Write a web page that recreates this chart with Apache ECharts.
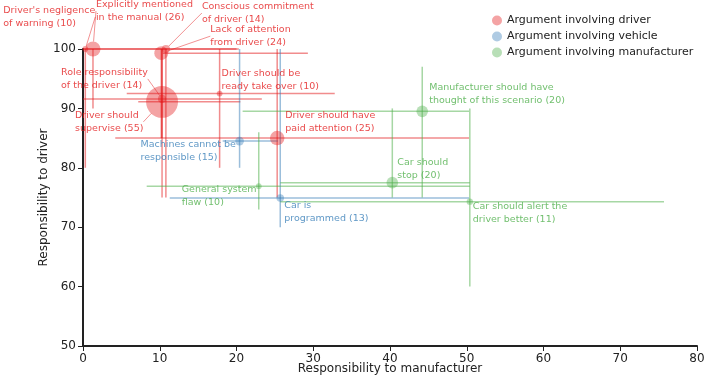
<!DOCTYPE html>
<html>
<head>
<meta charset="utf-8">
<script src="https://cdn.jsdelivr.net/npm/echarts@6/dist/echarts.min.js"></script>
<style>
  html, body { margin: 0; padding: 0; background: #fff; }
  #chart { width: 708px; height: 379px; }
</style>
</head>
<body>
<div id="chart"></div>
<script>
// arguments: name, group (0 driver, 1 vehicle, 2 manufacturer), count
var names = [
  "Driver's negligence\nof warning",
  'Explicitly mentioned\nin the manual',
  'Conscious commitment\nof driver',
  'Lack of attention\nfrom driver',
  'Role responsibility\nof the driver',
  'Driver should\nsupervise',
  'Driver should be\nready take over',
  'Driver should have\npaid attention',
  'Machines cannot be\nresponsible',
  'Car is\nprogrammed',
  'Manufacturer should have\nthought of this scenario',
  'Car should\nstop',
  'General system\nflaw',
  'Car should alert the\ndriver better'
];
var groups = [0, 0, 0, 0, 0, 0, 0, 0, 1, 1, 2, 2, 2, 2];
var counts = [10, 26, 14, 24, 14, 55, 10, 25, 15, 13, 20, 20, 10, 11];

// responsibility to manufacturer / driver, with ranges
var xVals  = [0.3, 1.3, 10.8, 10.2, 10.3, 10.3, 17.8, 25.3, 20.4, 25.7, 44.2, 40.3, 22.9, 50.4];
var yVals  = [100, 100, 100, 99.3, 91.6, 91.1, 92.5, 85.0, 84.5, 74.9, 89.5, 77.5, 76.9, 74.3];
var xLow   = [0, 0, 10, 10.4, 0, 7.2, 5.7, 4.2, 18.2, 11.3, 20.8, 25.7, 8.3, 25.7];
var xHigh  = [10, 20.3, 20, 29.3, 23.3, 20.5, 32.8, 50.3, 25.4, 50.3, 50.3, 50.4, 50.4, 75.7];
var yLow   = [80, 90, 75, 85, 85, 75, 80, 75, 80, 70, 75, 75, 73, 60];
var yHigh  = [100, 100, 100, 100, 100, 100, 100, 100, 100, 100, 97, 90, 86, 90];

// label placement relative to the point (px) and whether a leader line is drawn
var labelShift = [
  [-82, -32], [3, -38], [36, -36], [49, -17], [-101, -20], [-87, 20], [2, -14],
  [8, -16], [-99, 10], [4, 14], [7, -17], [5, -14], [-77, 10], [3, 11]
];
var leader = [true, true, true, true, true, true, false, false, false, false, false, false, false, false];

var groupNames = ['Argument involving driver', 'Argument involving vehicle', 'Argument involving manufacturer'];
var groupColors = ['#e41a1c', '#377eb8', '#4daf4a'];
var groupFill = ['rgba(228,26,28,0.5)', 'rgba(55,126,184,0.5)', 'rgba(77,175,74,0.5)'];

var chart = echarts.init(document.getElementById('chart'));
var series = [];

groupNames.forEach(function(gName, g) {
  var idx = [];
  for (var i = 0; i < names.length; i++) {
    if (groups[i] === g) idx.push(i);
  }

  // error bars
  series.push({
    type: 'custom',
    silent: true,
    z: 1,
    data: idx.map(function(i) {
      return [xVals[i], yVals[i], xLow[i], xHigh[i], yLow[i], yHigh[i]];
    }),
    encode: { x: [0, 2, 3], y: [1, 4, 5] },
    renderItem: function(params, api) {
      var l = api.coord([api.value(2), api.value(1)]);
      var r = api.coord([api.value(3), api.value(1)]);
      var b = api.coord([api.value(0), api.value(4)]);
      var t = api.coord([api.value(0), api.value(5)]);
      var st = { stroke: groupFill[g], lineWidth: 1.5 };
      return {
        type: 'group',
        children: [
          { type: 'line', shape: { x1: l[0], y1: l[1], x2: r[0], y2: r[1] }, style: st },
          { type: 'line', shape: { x1: b[0], y1: b[1], x2: t[0], y2: t[1] }, style: st }
        ]
      };
    }
  });

  series.push({
    name: gName,
    type: 'scatter',
    z: 3,
    itemStyle: { color: groupFill[g] },
    data: idx.map(function(i) {
      return {
        name: names[i],
        value: [xVals[i], yVals[i], counts[i]],
        symbolSize: counts[i] * 0.58,
        labelLine: { show: leader[i] }
      };
    }),
    label: {
      show: true,
      color: groupColors[g],
      fontFamily: 'DejaVu Sans',
      fontSize: 9.5,
      lineHeight: 13,
      formatter: function(p) {
        return p.name + ' (' + p.value[2] + ')';
      }
    },
    labelLine: {
      lineStyle: { color: groupColors[g], width: 0.8, opacity: 0.6 }
    },
    labelLayout: function(p) {
      var s = labelShift[idx[p.dataIndex]];
      return {
        x: p.rect.x + p.rect.width / 2 + s[0],
        y: p.rect.y + p.rect.height / 2 + s[1],
        align: 'left',
        verticalAlign: 'middle'
      };
    },
    emphasis: { disabled: true }
  });
});

var option = {
  animation: false,
  textStyle: { fontFamily: 'DejaVu Sans' },
  legend: {
    data: groupNames,
    orient: 'vertical',
    left: 487,
    top: 10,
    icon: 'circle',
    itemWidth: 10,
    itemHeight: 10,
    itemGap: 5,
    textStyle: { fontSize: 11, color: '#222', fontFamily: 'DejaVu Sans' }
  },
  grid: { left: 83, right: 11, top: 49, bottom: 33, outerBoundsMode: 'none' },
  xAxis: {
    type: 'value',
    min: 0,
    max: 80,
    interval: 10,
    name: 'Responsibility to manufacturer',
    nameLocation: 'middle',
    nameGap: 17,
    nameMoveOverlap: false,
    nameTextStyle: { fontSize: 12, color: '#222' },
    axisLine: { lineStyle: { color: '#222', width: 2 } },
    axisTick: { length: 5, lineStyle: { color: '#222' } },
    axisLabel: { fontSize: 12, color: '#222', margin: 7 },
    splitLine: { show: false }
  },
  yAxis: {
    type: 'value',
    min: 50,
    max: 100,
    interval: 10,
    name: 'Responsibility to driver',
    nameLocation: 'middle',
    nameGap: 33,
    nameMoveOverlap: false,
    nameTextStyle: { fontSize: 12, color: '#222' },
    axisLine: { show: true, lineStyle: { color: '#222', width: 2 } },
    axisTick: { show: true, length: 5, lineStyle: { color: '#222' } },
    axisLabel: { fontSize: 12, color: '#222', margin: 7 },
    splitLine: { show: false }
  },
  series: series
};

chart.setOption(option);
</script>
</body>
</html>
